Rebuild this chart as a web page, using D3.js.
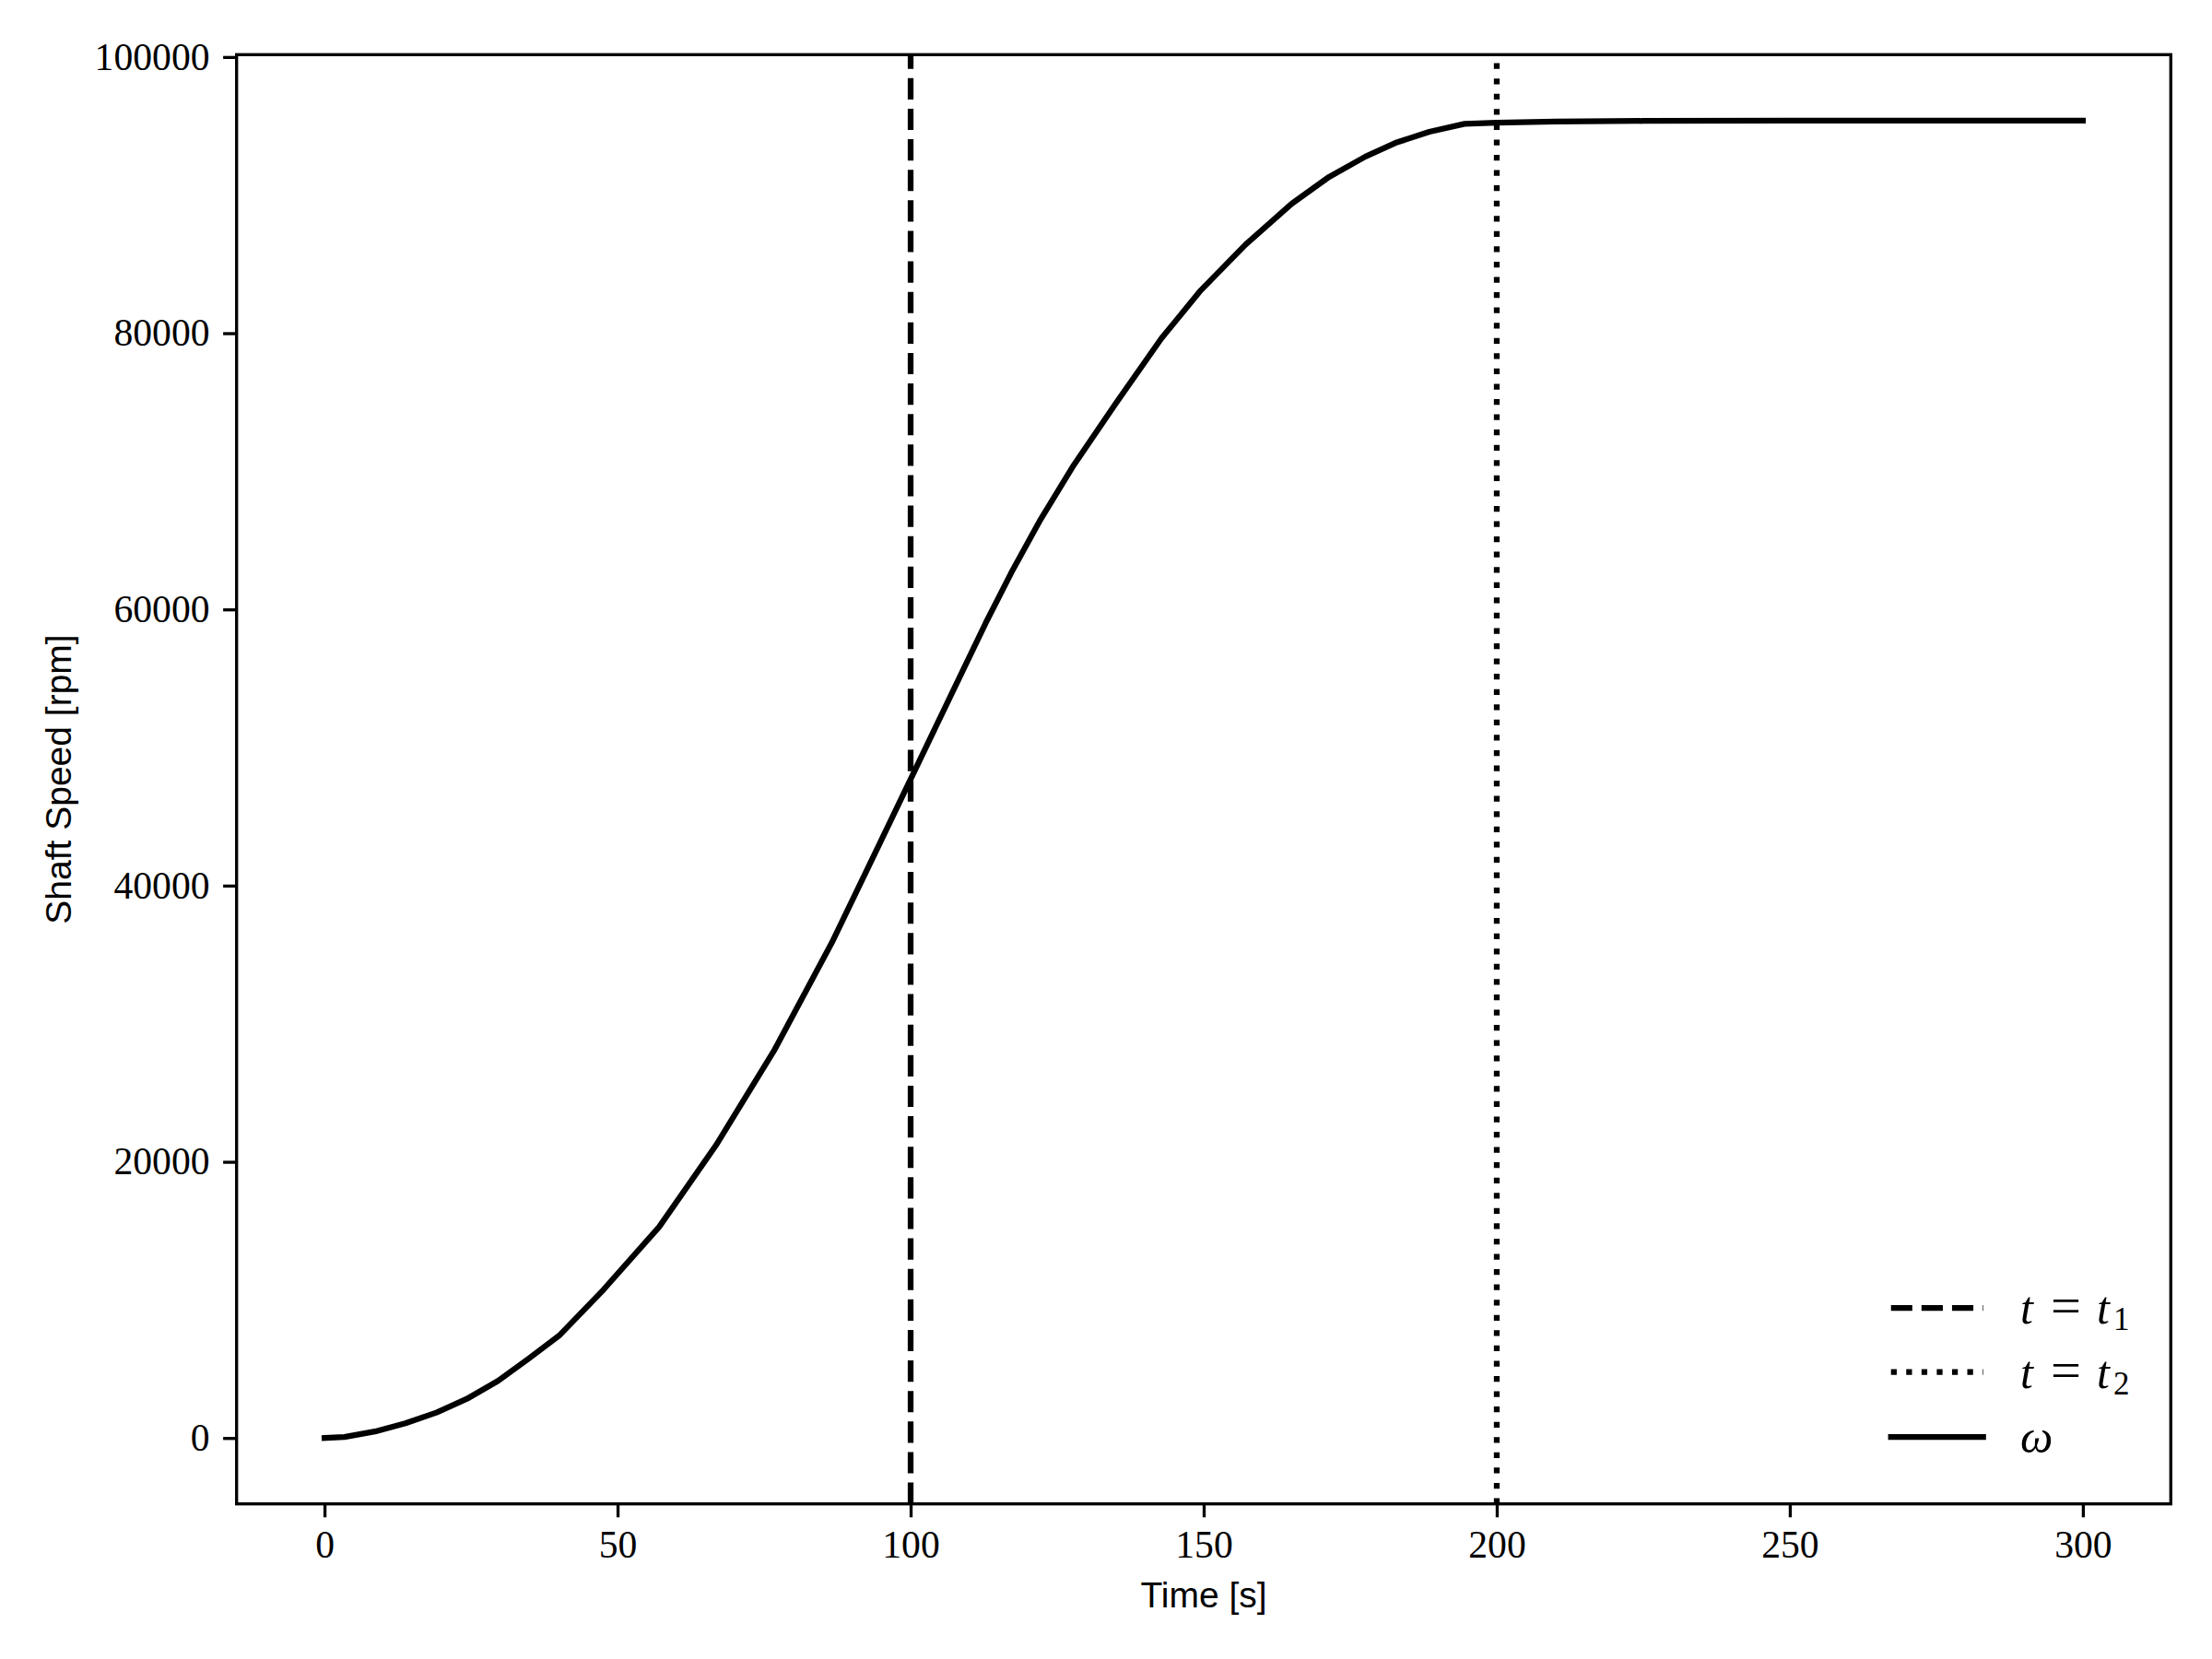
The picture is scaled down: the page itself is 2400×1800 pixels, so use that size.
<!DOCTYPE html>
<html>
<head>
<meta charset="utf-8">
<script src="https://cdn.jsdelivr.net/npm/d3@7"></script>
<style>
  html, body { margin: 0; padding: 0; background: #ffffff; }
  svg { display: block; }
</style>
</head>
<body>
<svg id="chart" width="2400" height="1800"></svg>
<script>
// ---- data ----
const times  = [0, 3.4, 8.6, 13.8, 19.1, 24.3, 29.6, 34.8, 40.0, 47.6, 57.1, 66.8, 76.7, 86.6, 94.5, 107.1,
                112.8, 117.2, 122.0, 127.8, 135.0, 142.8, 149.3, 157.1, 165.0, 171.4, 177.6, 182.7, 188.5,
                194.5, 200, 210, 225, 250, 300];
const speeds = [0, 70, 470, 1070, 1840, 2840, 4135, 5740, 7400, 10740, 15290, 21200, 28050, 35900, 42860, 53980,
                59010, 62680, 66390, 70430, 74920, 79630, 83010, 86400, 89370, 91320, 92790, 93780, 94580,
                95160, 95250, 95320, 95370, 95390, 95400];
const xTicks = [0, 50, 100, 150, 200, 250, 300];
const yTicks = [0, 20000, 40000, 60000, 80000, 100000];
const markerTimes = [100, 200];           // t1, t2
const xLabel = "Time [s]";
const yLabel = "Shaft Speed [rpm]";

// ---- layout ----
const PT = 300 / 72;
const plot = { left: 256.7, right: 2355.3, top: 59.3, bottom: 1631.7 };
const svg = d3.select("#chart");
svg.append("rect").attr("width", 2400).attr("height", 1800).attr("fill", "#fff");

const pad = (lo, hi) => { const r = hi - lo; return [lo - 0.05 * r, hi + 0.05 * r]; };
const x = d3.scaleLinear().domain(pad(d3.min(times), d3.max(times))).range([plot.left, plot.right]);
const y = d3.scaleLinear().domain(pad(d3.min(speeds), d3.max(speeds))).range([plot.bottom, plot.top]);

const data = times.map((t, i) => ({ t, v: speeds[i] }));
const lw = 1.5 * PT;
const dashPat = [3.7 * lw, 1.6 * lw].join(",");
const dotPat = [1 * lw, 1.65 * lw].join(",");

// vertical marker lines
const styles = [dashPat, dotPat];
markerTimes.forEach((mt, i) => {
  svg.append("line")
    .attr("x1", x(mt)).attr("x2", x(mt))
    .attr("y1", plot.bottom).attr("y2", plot.top)
    .attr("stroke", "#000").attr("stroke-width", lw)
    .attr("stroke-dasharray", styles[i]).attr("stroke-linecap", "butt");
});

// main curve
svg.append("path").datum(data)
  .attr("d", d3.line().x(d => x(d.t)).y(d => y(d.v)))
  .attr("fill", "none").attr("stroke", "#000").attr("stroke-width", lw)
  .attr("stroke-linejoin", "round").attr("stroke-linecap", "square");

// axes
const tickLen = 3.5 * PT, tickW = 0.8 * PT;
const serif = "'Liberation Serif', 'Times New Roman', serif";
const fs = 10 * PT;

const gx = svg.append("g").attr("transform", `translate(0,${plot.bottom})`)
  .call(d3.axisBottom(x).tickValues(xTicks).tickSize(tickLen).tickSizeOuter(0).tickPadding(tickLen).tickFormat(d3.format("d")));
const gy = svg.append("g").attr("transform", `translate(${plot.left},0)`)
  .call(d3.axisLeft(y).tickValues(yTicks).tickSize(tickLen).tickSizeOuter(0).tickPadding(tickLen).tickFormat(d3.format("d")));
[gx, gy].forEach(g => {
  g.select(".domain").remove();
  g.selectAll(".tick line").attr("stroke", "#000").attr("stroke-width", tickW);
  g.selectAll(".tick text").attr("font-family", serif).attr("font-size", fs).attr("fill", "#000");
});

// frame
svg.append("rect")
  .attr("x", plot.left).attr("y", plot.top)
  .attr("width", plot.right - plot.left).attr("height", plot.bottom - plot.top)
  .attr("fill", "none").attr("stroke", "#000").attr("stroke-width", tickW);

// axis labels
const sans = "'Liberation Sans', Arial, sans-serif";
svg.append("text").attr("x", (plot.left + plot.right) / 2).attr("y", 1744)
  .attr("text-anchor", "middle").attr("font-family", sans).attr("font-size", 39).text(xLabel);
svg.append("text").attr("transform", `translate(76.7,${(plot.top + plot.bottom) / 2}) rotate(-90)`)
  .attr("text-anchor", "middle").attr("font-family", sans).attr("font-size", 39).text(yLabel);

// legend (lower right, no frame)
const legRows = [
  { y: 1419, dash: dashPat, sub: "1" },
  { y: 1488.5, dash: dotPat, sub: "2" },
  { y: 1559, dash: null, sub: null }
];
const hx0 = 2051.7, hx1 = 2151.7, tx = 2192, lfs = 50;
legRows.forEach(r => {
  const ln = svg.append("line").attr("x1", hx0).attr("x2", hx1).attr("y1", r.y).attr("y2", r.y)
    .attr("stroke", "#000").attr("stroke-width", lw);
  if (r.dash) ln.attr("stroke-dasharray", r.dash).attr("stroke-linecap", "butt");
  else ln.attr("stroke-linecap", "square");
  const base = r.y + 17;
  const g = svg.append("g").attr("font-family", serif).attr("font-size", lfs).attr("fill", "#000");
  if (r.sub) {
    g.append("text").attr("x", tx).attr("y", base).attr("font-style", "italic").text("t");
    g.append("text").attr("x", 2225).attr("y", base).attr("font-size", 56).attr("textLength", 33)
      .attr("lengthAdjust", "spacingAndGlyphs").text("=");
    g.append("text").attr("x", 2275).attr("y", base).attr("font-style", "italic").text("t");
    g.append("text").attr("x", 2293).attr("y", base + 7).attr("font-size", 35).text(r.sub);
  } else {
    g.append("text").attr("x", tx).attr("y", base).attr("font-style", "italic").text("ω");
  }
});
</script>
</body>
</html>
